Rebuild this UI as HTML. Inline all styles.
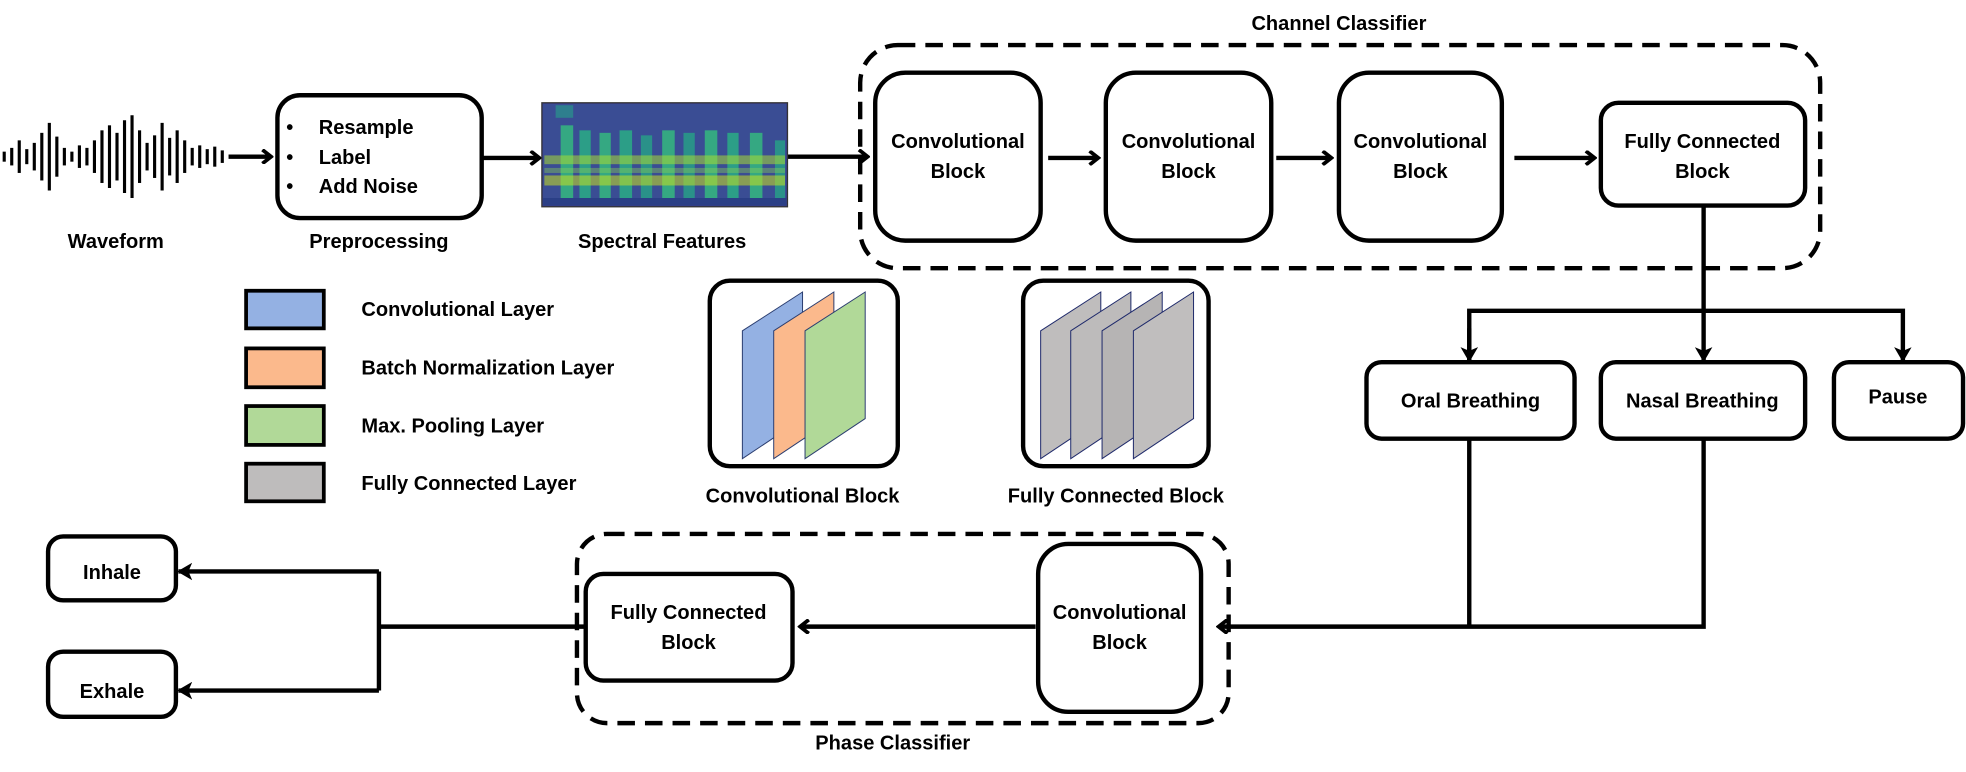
<!DOCTYPE html>
<html><head><meta charset="utf-8"><style>
html,body{margin:0;padding:0;background:#fff}
svg{display:block}
text{font-family:"Liberation Sans",sans-serif;font-weight:bold;font-size:16px;fill:#000}
</style></head><body>
<svg width="1966" height="772" viewBox="0 0 1568 616" xmlns="http://www.w3.org/2000/svg">
<defs>
<marker id="a" markerWidth="10" markerHeight="12" refX="8" refY="6" orient="auto" markerUnits="userSpaceOnUse">
<path d="M1,0.5 L8,6 L1,11.5" fill="none" stroke="#000" stroke-width="3"/>
</marker>
<marker id="t" markerWidth="12" markerHeight="14" refX="11" refY="7" orient="auto" markerUnits="userSpaceOnUse">
<path d="M0,0 L12,7 L0,14 L3,7 Z" fill="#000"/>
</marker>
</defs>
<g stroke="#000" stroke-width="3.5" fill="none">
<g stroke-width="2.5">
<line x1="3" y1="121" x2="3" y2="129"/><line x1="9" y1="118" x2="9" y2="132"/><line x1="15" y1="112" x2="15" y2="138"/>
<line x1="21" y1="119" x2="21" y2="131"/><line x1="27" y1="114" x2="27" y2="136"/><line x1="33" y1="106" x2="33" y2="144"/>
<line x1="39" y1="98" x2="39" y2="152"/><line x1="45" y1="109" x2="45" y2="141"/><line x1="51" y1="118" x2="51" y2="132"/>
<line x1="57" y1="121" x2="57" y2="129"/><line x1="63" y1="116" x2="63" y2="134"/><line x1="69" y1="118" x2="69" y2="132"/>
<line x1="75" y1="112" x2="75" y2="138"/><line x1="81" y1="104" x2="81" y2="146"/><line x1="87" y1="100" x2="87" y2="150"/>
<line x1="93" y1="106" x2="93" y2="144"/><line x1="99" y1="96" x2="99" y2="154"/><line x1="105" y1="92" x2="105" y2="158"/>
<line x1="111" y1="104" x2="111" y2="146"/><line x1="117" y1="114" x2="117" y2="136"/><line x1="123" y1="108" x2="123" y2="142"/>
<line x1="129" y1="98" x2="129" y2="152"/><line x1="135" y1="110" x2="135" y2="140"/><line x1="141" y1="104" x2="141" y2="146"/>
<line x1="147" y1="112" x2="147" y2="138"/><line x1="153" y1="118" x2="153" y2="132"/><line x1="159" y1="116" x2="159" y2="134"/>
<line x1="165" y1="119" x2="165" y2="131"/><line x1="171" y1="117" x2="171" y2="133"/><line x1="177" y1="120" x2="177" y2="130"/>
</g>
<line x1="182" y1="125" x2="216" y2="125" marker-end="url(#a)"/>
<rect x="221" y="76" width="163" height="98" rx="18"/>
<line x1="384" y1="126" x2="430" y2="126" marker-end="url(#a)"/>
<line x1="628" y1="125" x2="692" y2="125" marker-end="url(#a)"/>
<rect x="686" y="36" width="766" height="178" rx="30" stroke-dasharray="14 8"/>
<rect x="698" y="58" width="132" height="134" rx="24"/>
<rect x="882" y="58" width="132" height="134" rx="24"/>
<rect x="1068" y="58" width="130" height="134" rx="24"/>
<rect x="1277" y="82" width="163" height="82" rx="14"/>
<line x1="836" y1="126" x2="876" y2="126" marker-end="url(#a)"/>
<line x1="1018" y1="126" x2="1062" y2="126" marker-end="url(#a)"/>
<line x1="1208" y1="126" x2="1272" y2="126" marker-end="url(#a)"/>
<line x1="1359" y1="164" x2="1359" y2="288" marker-end="url(#t)"/>
<polyline points="1172,288 1172,248 1518,248 1518,288" marker-end="url(#t)"/>
<line x1="1172" y1="262" x2="1172" y2="288" marker-end="url(#t)"/>
<rect x="1090" y="289" width="166" height="61" rx="12"/>
<rect x="1277" y="289" width="163" height="61" rx="12"/>
<rect x="1463" y="289" width="103" height="61" rx="12"/>
<polyline points="1172,350 1172,500"/>
<polyline points="1359,350 1359,500 972,500" marker-end="url(#a)"/>
<rect x="460" y="426" width="520" height="151" rx="24" stroke-dasharray="14 8"/>
<rect x="828" y="434" width="130" height="134" rx="24"/>
<rect x="467" y="458" width="165" height="85" rx="14"/>
<line x1="826" y1="500" x2="638" y2="500" marker-end="url(#a)"/>
<line x1="467" y1="500" x2="302" y2="500"/>
<polyline points="302,456 302,551"/>
<line x1="302" y1="456" x2="142" y2="456" marker-end="url(#t)"/>
<line x1="302" y1="551" x2="142" y2="551" marker-end="url(#t)"/>
<rect x="38" y="428" width="102" height="51" rx="12"/>
<rect x="38" y="520" width="102" height="52" rx="12"/>
<rect x="196" y="232" width="62" height="30" fill="#94b1e3" stroke-width="3"/>
<rect x="196" y="278" width="62" height="31" fill="#fbb98c" stroke-width="3"/>
<rect x="196" y="324" width="62" height="31" fill="#b1d998" stroke-width="3"/>
<rect x="196" y="370" width="62" height="30" fill="#bebcbc" stroke-width="3"/>
<rect x="566" y="224" width="150" height="148" rx="16"/>
<rect x="816" y="224" width="148" height="148" rx="16"/>
</g>
<rect x="432" y="82" width="196" height="83" fill="#3a3f8c" stroke="#333" stroke-width="1"/>
<rect x="433" y="83" width="194" height="81" fill="#3a4d94"/>
<rect x="443" y="84" width="14" height="10" fill="#2c8c8c" opacity="0.8"/>
<g>
<rect x="447" y="100" width="10" height="58" fill="#35a882"/>
<rect x="462" y="104" width="9" height="54" fill="#2c9e87"/>
<rect x="478" y="106" width="9" height="52" fill="#35a882"/>
<rect x="494" y="104" width="10" height="54" fill="#2c9e87"/>
<rect x="511" y="108" width="9" height="50" fill="#2a9189"/>
<rect x="528" y="104" width="10" height="54" fill="#35a882"/>
<rect x="545" y="106" width="9" height="52" fill="#2a9189"/>
<rect x="562" y="104" width="10" height="54" fill="#35a882"/>
<rect x="580" y="106" width="9" height="52" fill="#2c9e87"/>
<rect x="598" y="106" width="10" height="52" fill="#35a882"/>
<rect x="618" y="112" width="8" height="46" fill="#2a9189"/>
<rect x="434" y="124" width="192" height="7" fill="#a8db34" opacity="0.55"/>
<rect x="434" y="134" width="192" height="4" fill="#8fd24f" opacity="0.4"/>
<rect x="434" y="140" width="192" height="8" fill="#c8e020" opacity="0.55"/>
<rect x="433" y="158" width="194" height="6" fill="#2b3f86"/>
</g>
<g stroke="#2c3e70" stroke-width="0.8">
<polygon points="592,264 640,233 640,334 592,366" fill="#94b1e3"/>
<polygon points="617,264 665,233 665,334 617,366" fill="#fbb98c"/>
<polygon points="642,264 690,233 690,334 642,366" fill="#b1d998"/>
<polygon points="830,264 878,233 878,334 830,366" fill="#bfbdbd" stroke="#1f2a6b"/>
<polygon points="854,264 902,233 902,334 854,366" fill="#bdbbbb" stroke="#1f2a6b"/>
<polygon points="879,264 927,233 927,334 879,366" fill="#b6b4b4" stroke="#1f2a6b"/>
<polygon points="904,264 952,233 952,334 904,366" fill="#c0bebe" stroke="#1f2a6b"/>
</g>
<g text-anchor="middle">
<text x="92" y="198">Waveform</text>
<text x="302" y="198">Preprocessing</text>
<text x="528" y="198">Spectral Features</text>
<text x="1068" y="24">Channel Classifier</text>
<text x="764" y="118">Convolutional</text><text x="764" y="142">Block</text>
<text x="948" y="118">Convolutional</text><text x="948" y="142">Block</text>
<text x="1133" y="118">Convolutional</text><text x="1133" y="142">Block</text>
<text x="1358" y="118">Fully Connected</text><text x="1358" y="142">Block</text>
<text x="1173" y="325">Oral Breathing</text>
<text x="1358" y="325">Nasal Breathing</text>
<text x="1514" y="322">Pause</text>
<text x="640" y="401">Convolutional Block</text>
<text x="890" y="401">Fully Connected Block</text>
<text x="893" y="494">Convolutional</text><text x="893" y="518">Block</text>
<text x="549" y="494">Fully Connected</text><text x="549" y="518">Block</text>
<text x="89" y="462">Inhale</text>
<text x="89" y="557">Exhale</text>
<text x="712" y="598">Phase Classifier</text>
</g>
<text x="228" y="107">•</text><text x="254" y="107">Resample</text>
<text x="228" y="131">•</text><text x="254" y="131">Label</text>
<text x="228" y="154">•</text><text x="254" y="154">Add Noise</text>
<text x="288" y="252">Convolutional Layer</text>
<text x="288" y="299">Batch Normalization Layer</text>
<text x="288" y="345">Max. Pooling Layer</text>
<text x="288" y="391">Fully Connected Layer</text>
</svg>
</body></html>
